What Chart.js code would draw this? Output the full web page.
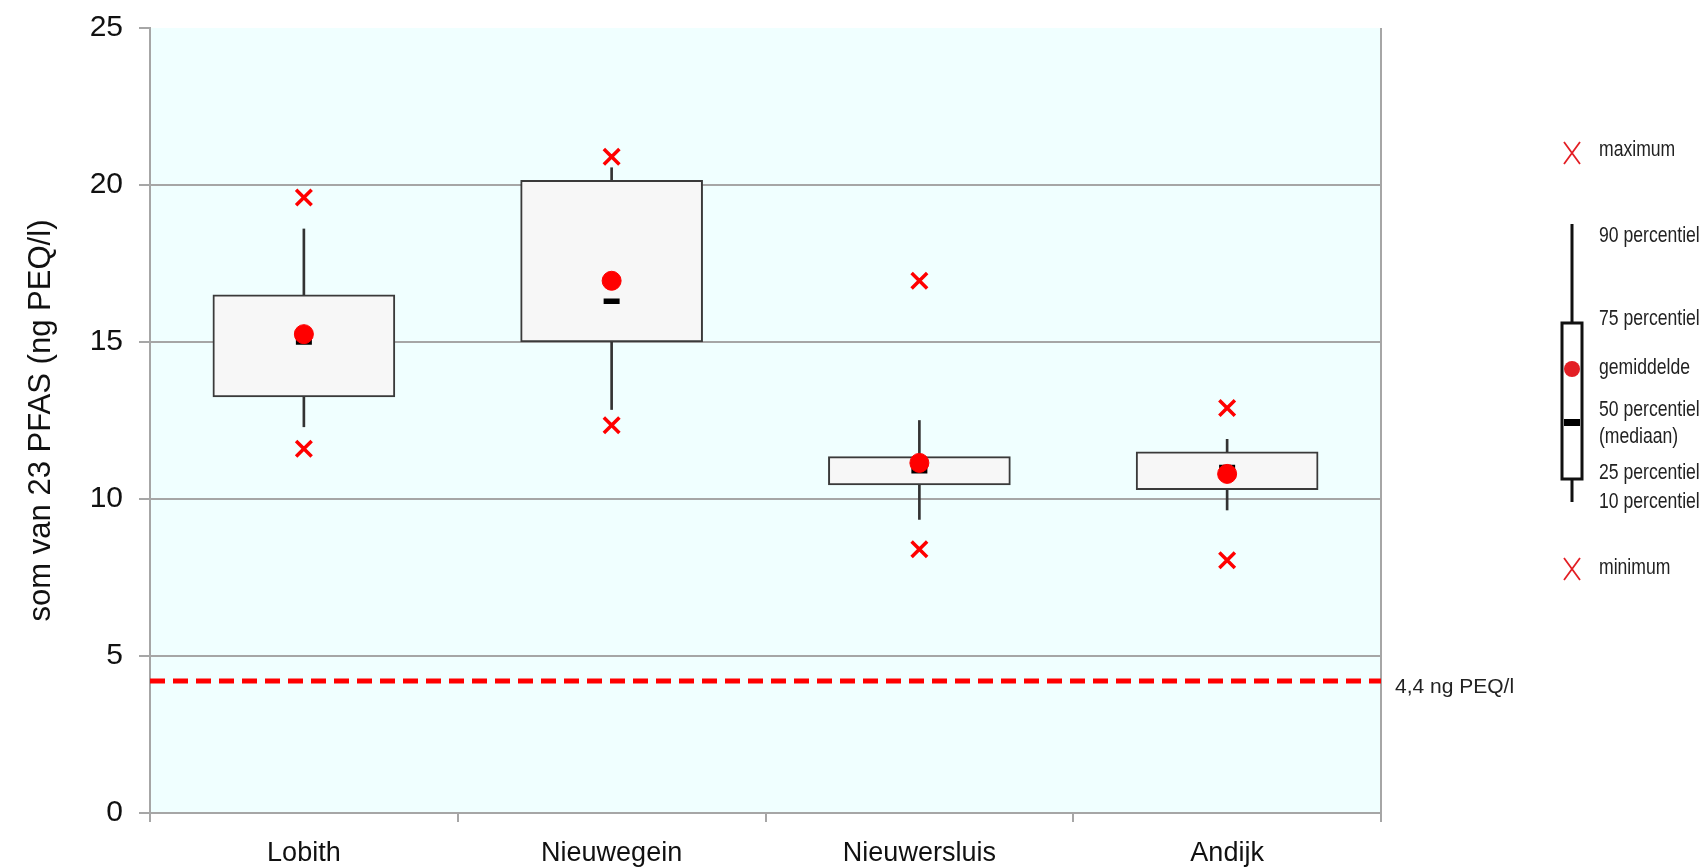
<!DOCTYPE html>
<html>
<head>
<meta charset="utf-8">
<script src="https://cdn.jsdelivr.net/npm/chart.js@4.4.1/dist/chart.umd.min.js"></script>
<style>
  html, body { margin: 0; padding: 0; background: #ffffff; }
  #wrap { width: 1704px; height: 867px; position: relative; }
</style>
</head>
<body>
<div id="wrap"><canvas id="boxChart"></canvas></div>
<script>
// data
var categories = ['Lobith', 'Nieuwegein', 'Nieuwersluis', 'Andijk'];
var minimum = [11.6, 12.35, 8.4, 8.05];
var p10 = [12.3, 12.85, 9.35, 9.65];
var p25 = [13.25, 15.0, 10.45, 10.3];
var median = [15.0, 16.3, 10.9, 11.0];
var mean = [15.25, 16.95, 11.15, 10.8];
var p75 = [16.5, 20.15, 11.35, 11.5];
var p90 = [18.6, 20.55, 12.5, 11.9];
var maximum = [19.6, 20.9, 16.95, 12.9];
var yTicks = [0, 5, 10, 15, 20, 25];
var normValue = 4.2;
var normLabel = '4,4 ng PEQ/l';
var yTitle = 'som van 23 PFAS (ng PEQ/l)';

var sans = '"Liberation Sans", Arial, sans-serif';

var whiskers = categories.map(function (c, i) { return [p10[i], p90[i]]; });
var boxes = categories.map(function (c, i) { return [p25[i], p75[i]]; });

// text squeezed sideways, to look like Arial Narrow
function narrowText(ctx, text, x, y, size, squeeze) {
    ctx.save();
    ctx.translate(x, y);
    ctx.scale(squeeze, 1);
    ctx.font = size + 'px ' + sans;
    ctx.fillText(text, 0, 0);
    ctx.restore();
}

var plotDecor = {
    id: 'plotDecor',
    beforeDraw: function (chart) {
        var a = chart.chartArea, ctx = chart.ctx;
        ctx.save();
        ctx.fillStyle = '#f0ffff';
        ctx.fillRect(a.left, a.top, a.right - a.left, a.bottom - a.top);
        ctx.restore();
    },
    afterDraw: function (chart) {
        var a = chart.chartArea, ctx = chart.ctx;
        var y = chart.scales.y.getPixelForValue(normValue);
        ctx.save();
        // right border
        ctx.strokeStyle = '#a6a6a6';
        ctx.lineWidth = 2;
        ctx.beginPath();
        ctx.moveTo(a.right, a.top);
        ctx.lineTo(a.right, a.bottom + 9);
        ctx.stroke();
        // norm line
        ctx.strokeStyle = '#ff0000';
        ctx.lineWidth = 5;
        ctx.setLineDash([15, 8]);
        ctx.beginPath();
        ctx.moveTo(a.left, y);
        ctx.lineTo(a.right, y);
        ctx.stroke();
        ctx.setLineDash([]);
        ctx.fillStyle = '#222';
        ctx.font = '21px ' + sans;
        ctx.textBaseline = 'middle';
        ctx.fillText(normLabel, a.right + 14, y + 6);

        // y title
        ctx.save();
        ctx.translate(41, (a.top + a.bottom) / 2);
        ctx.rotate(-Math.PI / 2);
        ctx.textAlign = 'center';
        ctx.fillStyle = '#111';
        narrowText(ctx, yTitle, 0, 0, 32, 0.97);
        ctx.restore();

        // explanation legend
        var lx = 1572;
        function cross(cx, cy) {
            ctx.strokeStyle = '#e31e24';
            ctx.lineWidth = 1.8;
            ctx.beginPath();
            ctx.moveTo(cx - 8, cy - 11); ctx.lineTo(cx + 8, cy + 11);
            ctx.moveTo(cx + 8, cy - 11); ctx.lineTo(cx - 8, cy + 11);
            ctx.stroke();
        }
        cross(lx, 153);
        cross(lx, 569);
        ctx.strokeStyle = '#111';
        ctx.lineWidth = 3;
        ctx.beginPath();
        ctx.moveTo(lx, 224); ctx.lineTo(lx, 323);
        ctx.moveTo(lx, 479); ctx.lineTo(lx, 502);
        ctx.stroke();
        ctx.fillStyle = '#ffffff';
        ctx.fillRect(lx - 10, 323, 20, 156);
        ctx.strokeRect(lx - 10, 323, 20, 156);
        ctx.fillStyle = '#e31e24';
        ctx.beginPath();
        ctx.arc(lx, 369, 8, 0, Math.PI * 2);
        ctx.fill();
        ctx.fillStyle = '#000';
        ctx.fillRect(lx - 8, 419, 16, 7);

        ctx.fillStyle = '#222';
        var tx = 1599;
        [['maximum', 150], ['90 percentiel', 236], ['75 percentiel', 319], ['gemiddelde', 368],
         ['50 percentiel', 410], ['(mediaan)', 437], ['25 percentiel', 473], ['10 percentiel', 502],
         ['minimum', 568]].forEach(function (t) { narrowText(ctx, t[0], tx, t[1], 22, 0.8); });
        ctx.restore();
    }
};

var ctx = document.getElementById('boxChart').getContext('2d');
var myChart = new Chart(ctx, {
    type: 'bar',
    data: {
        labels: categories,
        datasets: [{
            label: 'p10-p90',
            data: whiskers,
            backgroundColor: '#333333',
            barThickness: 2,
            grouped: false,
            order: 6
        }, {
            label: 'p25-p75',
            data: boxes,
            backgroundColor: '#f7f7f7',
            borderColor: '#3a3a3a',
            borderWidth: 2,
            borderSkipped: false,
            barThickness: 182,
            grouped: false,
            order: 5
        }, {
            type: 'line',
            label: 'mediaan',
            data: median,
            showLine: false,
            pointStyle: 'line',
            pointRadius: 8,
            borderColor: '#000000',
            pointBorderWidth: 5.5,
            order: 3
        }, {
            type: 'line',
            label: 'gemiddelde',
            data: mean,
            showLine: false,
            pointStyle: 'circle',
            pointRadius: 9.5,
            backgroundColor: '#ff0000',
            borderColor: '#ff0000',
            pointBorderWidth: 1,
            order: 2
        }, {
            type: 'line',
            label: 'maximum',
            data: maximum,
            showLine: false,
            pointStyle: 'crossRot',
            pointRadius: 11,
            borderColor: '#ff0000',
            pointBorderWidth: 3.5,
            order: 1
        }, {
            type: 'line',
            label: 'minimum',
            data: minimum,
            showLine: false,
            pointStyle: 'crossRot',
            pointRadius: 11,
            borderColor: '#ff0000',
            pointBorderWidth: 3.5,
            order: 1
        }]
    },
    options: {
        responsive: true,
        maintainAspectRatio: false,
        animation: false,
        layout: { padding: { left: 0, top: 27, right: 323, bottom: 0 } },
        plugins: { legend: { display: false }, tooltip: { enabled: false } },
        scales: {
            x: {
                grid: { drawOnChartArea: false, color: '#a6a6a6', lineWidth: 2, tickLength: 9 },
                border: { color: '#a6a6a6', width: 2 },
                ticks: { color: '#111', font: { family: sans, size: 27 }, padding: 15 },
                afterFit: function (s) { s.height = 54; }
            },
            y: {
                min: 0,
                max: 25,
                afterBuildTicks: function (s) { s.ticks = yTicks.map(function (v) { return { value: v }; }); },
                grid: {
                    color: function (c) { return c.tick && c.tick.value === 25 ? 'rgba(0,0,0,0)' : '#a6a6a6'; },
                    lineWidth: 2,
                    tickLength: 11,
                    tickColor: '#a6a6a6'
                },
                border: { color: '#a6a6a6', width: 2 },
                ticks: { color: '#111', font: { family: sans, size: 30, lineHeight: 0.8 }, padding: 16 },
                afterFit: function (s) { s.width = 150; }
            }
        }
    },
    plugins: [plotDecor]
});
</script>
</body>
</html>
